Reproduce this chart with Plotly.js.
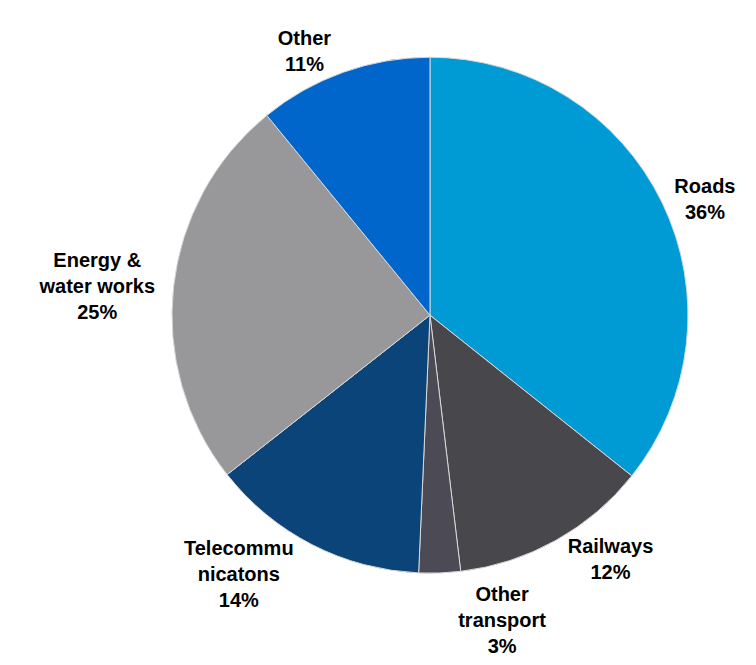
<!DOCTYPE html>
<html>
<head>
<meta charset="utf-8">
<script src="https://cdn.plot.ly/plotly-3.0.1.min.js"></script>
<style>html,body{margin:0;padding:0;background:#fff;}#chart{width:756px;height:665px;}
#chart path.textline{display:none;}</style>
</head>
<body>
<div id="chart"></div>
<script>
var categories = ["Roads", "Railways", "Other transport", "Telecommunications", "Energy & water works", "Other"];
var displayLabels = ["Roads", "Railways", "Other<br>transport", "Telecommu<br>nicatons", "Energy &<br>water works", "Other"];
var values = [35.7, 12.4, 2.6, 13.7, 24.7, 10.9];
var colors = ["#009BD5", "#48474C", "#4B4A55", "#0A4478", "#98989A", "#0066CC"];

var trace = {
  type: "pie",
  labels: categories,
  values: values,
  text: displayLabels,
  sort: false,
  direction: "clockwise",
  rotation: 0,
  marker: {colors: colors, line: {color: "#D8D8D8", width: 1}},
  textposition: "outside",
  texttemplate: "%{text}<br>%{percent:.0%}",
  textfont: {family: "Liberation Sans, Arial, sans-serif", size: 20, color: "#000000", weight: "bold"},
  hoverinfo: "label+percent",
  domain: {x: [0.2275, 0.910], y: [0.138, 0.914]},
  showlegend: false
};

var layout = {
  width: 756, height: 665,
  margin: {l: 0, r: 0, t: 0, b: 0},
  paper_bgcolor: "#ffffff",
  showlegend: false
};

Plotly.newPlot("chart", [trace], layout, {staticPlot: true});
</script>
</body>
</html>
